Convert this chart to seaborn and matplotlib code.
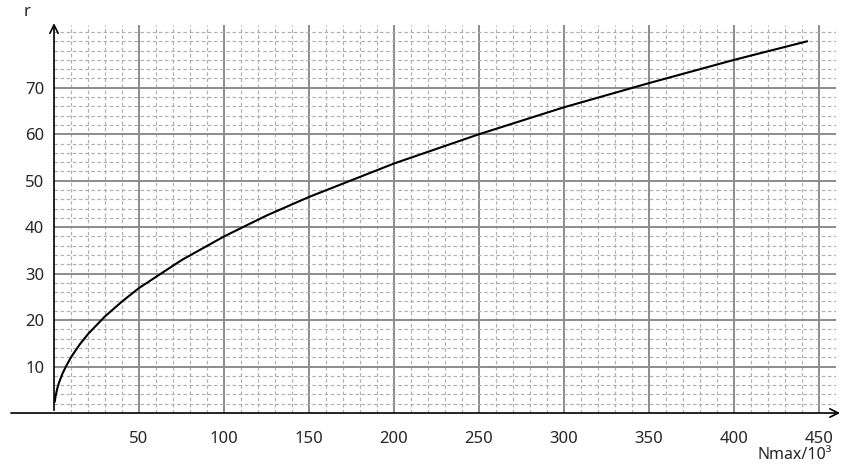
import numpy as np
import pandas as pd
import seaborn as sns
import matplotlib.pyplot as plt

sns.set_theme(style="white")
plt.rcParams['font.family'] = ['Noto Sans', 'DejaVu Sans']

# values (Nmax in thousands, r)
nmax = [0.4, 1, 2, 3, 5, 7, 10, 15, 20, 30, 40, 50, 75, 100, 125, 150, 200, 250, 300, 350, 400, 443]
r_vals = [2.4, 3.8, 5.4, 6.6, 8.5, 10.0, 12.0, 14.7, 17.0, 20.8, 24.0, 26.9, 32.9, 38.0, 42.5, 46.5, 53.7, 60.0, 65.8, 71.0, 76.0, 80.0]
x_major = [50, 100, 150, 200, 250, 300, 350, 400, 450]
y_major = [10, 20, 30, 40, 50, 60, 70]

df = pd.DataFrame({'Nmax': nmax, 'r': r_vals})

fig = plt.figure(figsize=(8.56, 4.66), dpi=100)
ax = fig.add_axes([0.0631, 0.1137, 0.9136, 0.8326])
ax.set_xlim(0, 460)
ax.set_ylim(0, 83.5)

# grid: solid major lines, dashed minor lines
for x in np.arange(10, 461, 10):
    if x in x_major:
        ax.axvline(x, color='#8c8c8c', lw=1.4, zorder=1)
    else:
        ax.axvline(x, color='#b0b0b0', lw=0.85, ls=(0, (3, 2.2)), zorder=1)
for y in np.arange(2, 83, 2):
    if y in y_major:
        ax.axhline(y, color='#8c8c8c', lw=1.4, zorder=1)
    else:
        ax.axhline(y, color='#b0b0b0', lw=0.85, ls=(0, (3, 2.2)), zorder=1)

sns.lineplot(data=df, x='Nmax', y='r', color='black', lw=1.5, ax=ax, zorder=3)

for s in ax.spines.values():
    s.set_visible(False)

# axes with arrows
ax.annotate('', xy=(464, 0), xytext=(-27, 0), annotation_clip=False,
            arrowprops=dict(arrowstyle='->', color='black', lw=1.2, mutation_scale=15))
ax.annotate('', xy=(0, 84.5), xytext=(0, 0), annotation_clip=False,
            arrowprops=dict(arrowstyle='->', color='black', lw=1.2, mutation_scale=15))

ax.set_xticks(x_major)
ax.set_xticklabels([str(v) for v in x_major], fontsize=12)
ax.set_yticks(y_major)
ax.set_yticklabels([str(v) for v in y_major], fontsize=12)
ax.tick_params(axis='both', length=0)
ax.tick_params(axis='x', pad=13)
ax.tick_params(axis='y', pad=7)
ax.set_xlabel('')
ax.set_ylabel('')

fig.text(27 / 856, 1 - 12 / 466, 'r', fontsize=12, ha='center', va='center')
fig.text(795 / 856, 1 - 455 / 466, 'Nmax/10³', fontsize=11.5, ha='center', va='center')

fig.savefig('out.png', dpi=100)
